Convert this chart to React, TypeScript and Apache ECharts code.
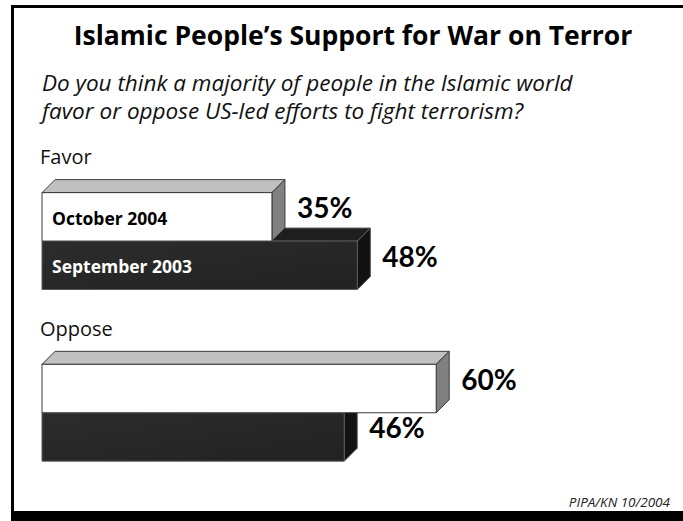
import React, { useEffect, useRef } from "react";
import * as echarts from "echarts";

const categories = ["Favor", "Oppose"];
const periods = ["October 2004", "September 2003"];
const october2004 = [35, 60];
const september2003 = [48, 46];

const titleText = "Islamic People\u2019s Support for War on Terror";
const subtitleLines = [
  "Do you think a majority of people in the Islamic world",
  "favor or oppose US-led efforts to fight terrorism?",
];
const sourceText = "PIPA/KN 10/2004";

const DEPTH = 13;
const BAR_FRAC = 0.282;

function makeRender(isTop: boolean) {
  return (params: any, api: any) => {
    const v = api.value(0);
    const c = api.value(1);
    const base = api.coord([0, c]);
    const end = api.coord([v, c]);
    const band = api.size([0, 1])[1];
    const h = band * BAR_FRAC;
    const top = isTop ? base[1] - h : base[1];
    const bottom = top + h;
    const x0 = base[0];
    const x1 = end[0];
    const d = DEPTH;
    const front = isTop
      ? { fill: "#ffffff", stroke: "#3a3a3a", lineWidth: 1 }
      : {
          fill: new echarts.graphic.LinearGradient(0, 0, 1, 1, [
            { offset: 0, color: "#2c2c2c" },
            { offset: 1, color: "#222222" },
          ]),
          stroke: "#5a5a5a",
          lineWidth: 1,
        };
    const topFace = isTop
      ? { fill: "#c0c0c0", stroke: "#3a3a3a", lineWidth: 1 }
      : { fill: "#1e1e1e", stroke: "#5a5a5a", lineWidth: 1 };
    const sideFace = isTop
      ? { fill: "#808080", stroke: "#3a3a3a", lineWidth: 1 }
      : { fill: "#121212", stroke: "#5a5a5a", lineWidth: 1 };
    const children: any[] = [
      {
        type: "polygon",
        shape: { points: [[x0, top], [x0 + d, top - d], [x1 + d, top - d], [x1, top]] },
        style: topFace,
      },
      {
        type: "polygon",
        shape: { points: [[x1, top], [x1 + d, top - d], [x1 + d, bottom - d], [x1, bottom]] },
        style: sideFace,
      },
      {
        type: "rect",
        shape: { x: x0, y: top, width: x1 - x0, height: h },
        style: front,
      },
      {
        type: "text",
        x: x1 + d + 12,
        y: (top - d + bottom) / 2 - 3,
        style: {
          text: v + "%",
          fill: "#000",
          font: "bold 28px Lato",
          verticalAlign: "middle",
          align: "left",
        },
      },
    ];
    if (c === 0) {
      children.push({
        type: "text",
        x: x0 + 10,
        y: (top + bottom) / 2 + 1,
        style: {
          text: isTop ? periods[0] : periods[1],
          fill: isTop ? "#000" : "#fff",
          font: "bold 17.5px 'Open Sans'",
          verticalAlign: "middle",
          align: "left",
        },
      });
    }
    if (isTop) {
      children.push({
        type: "text",
        x: x0 - 2,
        y: top - 36,
        style: {
          text: categories[c],
          fill: "#111",
          font: "20px 'Open Sans'",
          verticalAlign: "middle",
          align: "left",
        },
      });
    }
    return { type: "group", children };
  };
}

export default function App() {
  const ref = useRef<HTMLDivElement>(null);
  useEffect(() => {
    if (!ref.current) return;
    const chart = echarts.init(ref.current, undefined, { renderer: "svg" });
    chart.setOption({
      animation: false,
      backgroundColor: "#ffffff",
      grid: { left: 42, right: 49.7, top: 155.2, bottom: 22.4, containLabel: false },
      xAxis: { type: "value", min: 0, max: 90, show: false },
      yAxis: {
        type: "category",
        data: categories,
        inverse: true,
        show: false,
      },
      graphic: [
        { type: "rect", shape: { x: 12.5, y: 6.5, width: 700, height: 508 }, style: { fill: "none", stroke: "#000", lineWidth: 3 }, silent: true },
        { type: "rect", shape: { x: 11, y: 511, width: 683, height: 12 }, style: { fill: "#000" }, silent: true },
        {
          type: "text",
          x: 353,
          y: 35,
          style: { text: titleText, font: "bold 26.5px 'Open Sans'", fill: "#000", align: "center", verticalAlign: "middle" },
        },
        {
          type: "text",
          x: 42,
          y: 82,
          style: { text: subtitleLines[0], font: "italic 22.5px 'Open Sans'", fill: "#111", align: "left", verticalAlign: "middle" },
        },
        {
          type: "text",
          x: 42,
          y: 110,
          style: { text: subtitleLines[1], font: "italic 22.5px 'Open Sans'", fill: "#111", align: "left", verticalAlign: "middle" },
        },
        {
          type: "text",
          x: 670,
          y: 502,
          style: { text: sourceText, font: "italic 13.5px 'Open Sans'", fill: "#222", align: "right", verticalAlign: "middle" },
        },
      ],
      series: [
        {
          type: "custom",
          name: periods[1],
          renderItem: makeRender(false),
          encode: { x: 0, y: 1 },
          data: september2003.map((v, i) => [v, i]),
          z: 1,
        },
        {
          type: "custom",
          name: periods[0],
          renderItem: makeRender(true),
          encode: { x: 0, y: 1 },
          data: october2004.map((v, i) => [v, i]),
          z: 2,
        },
      ],
    });
    return () => chart.dispose();
  }, []);
  return (
    <div
      ref={ref}
      style={{ position: "fixed", left: 0, top: 0, width: 683, height: 521 }}
    />
  );
}
